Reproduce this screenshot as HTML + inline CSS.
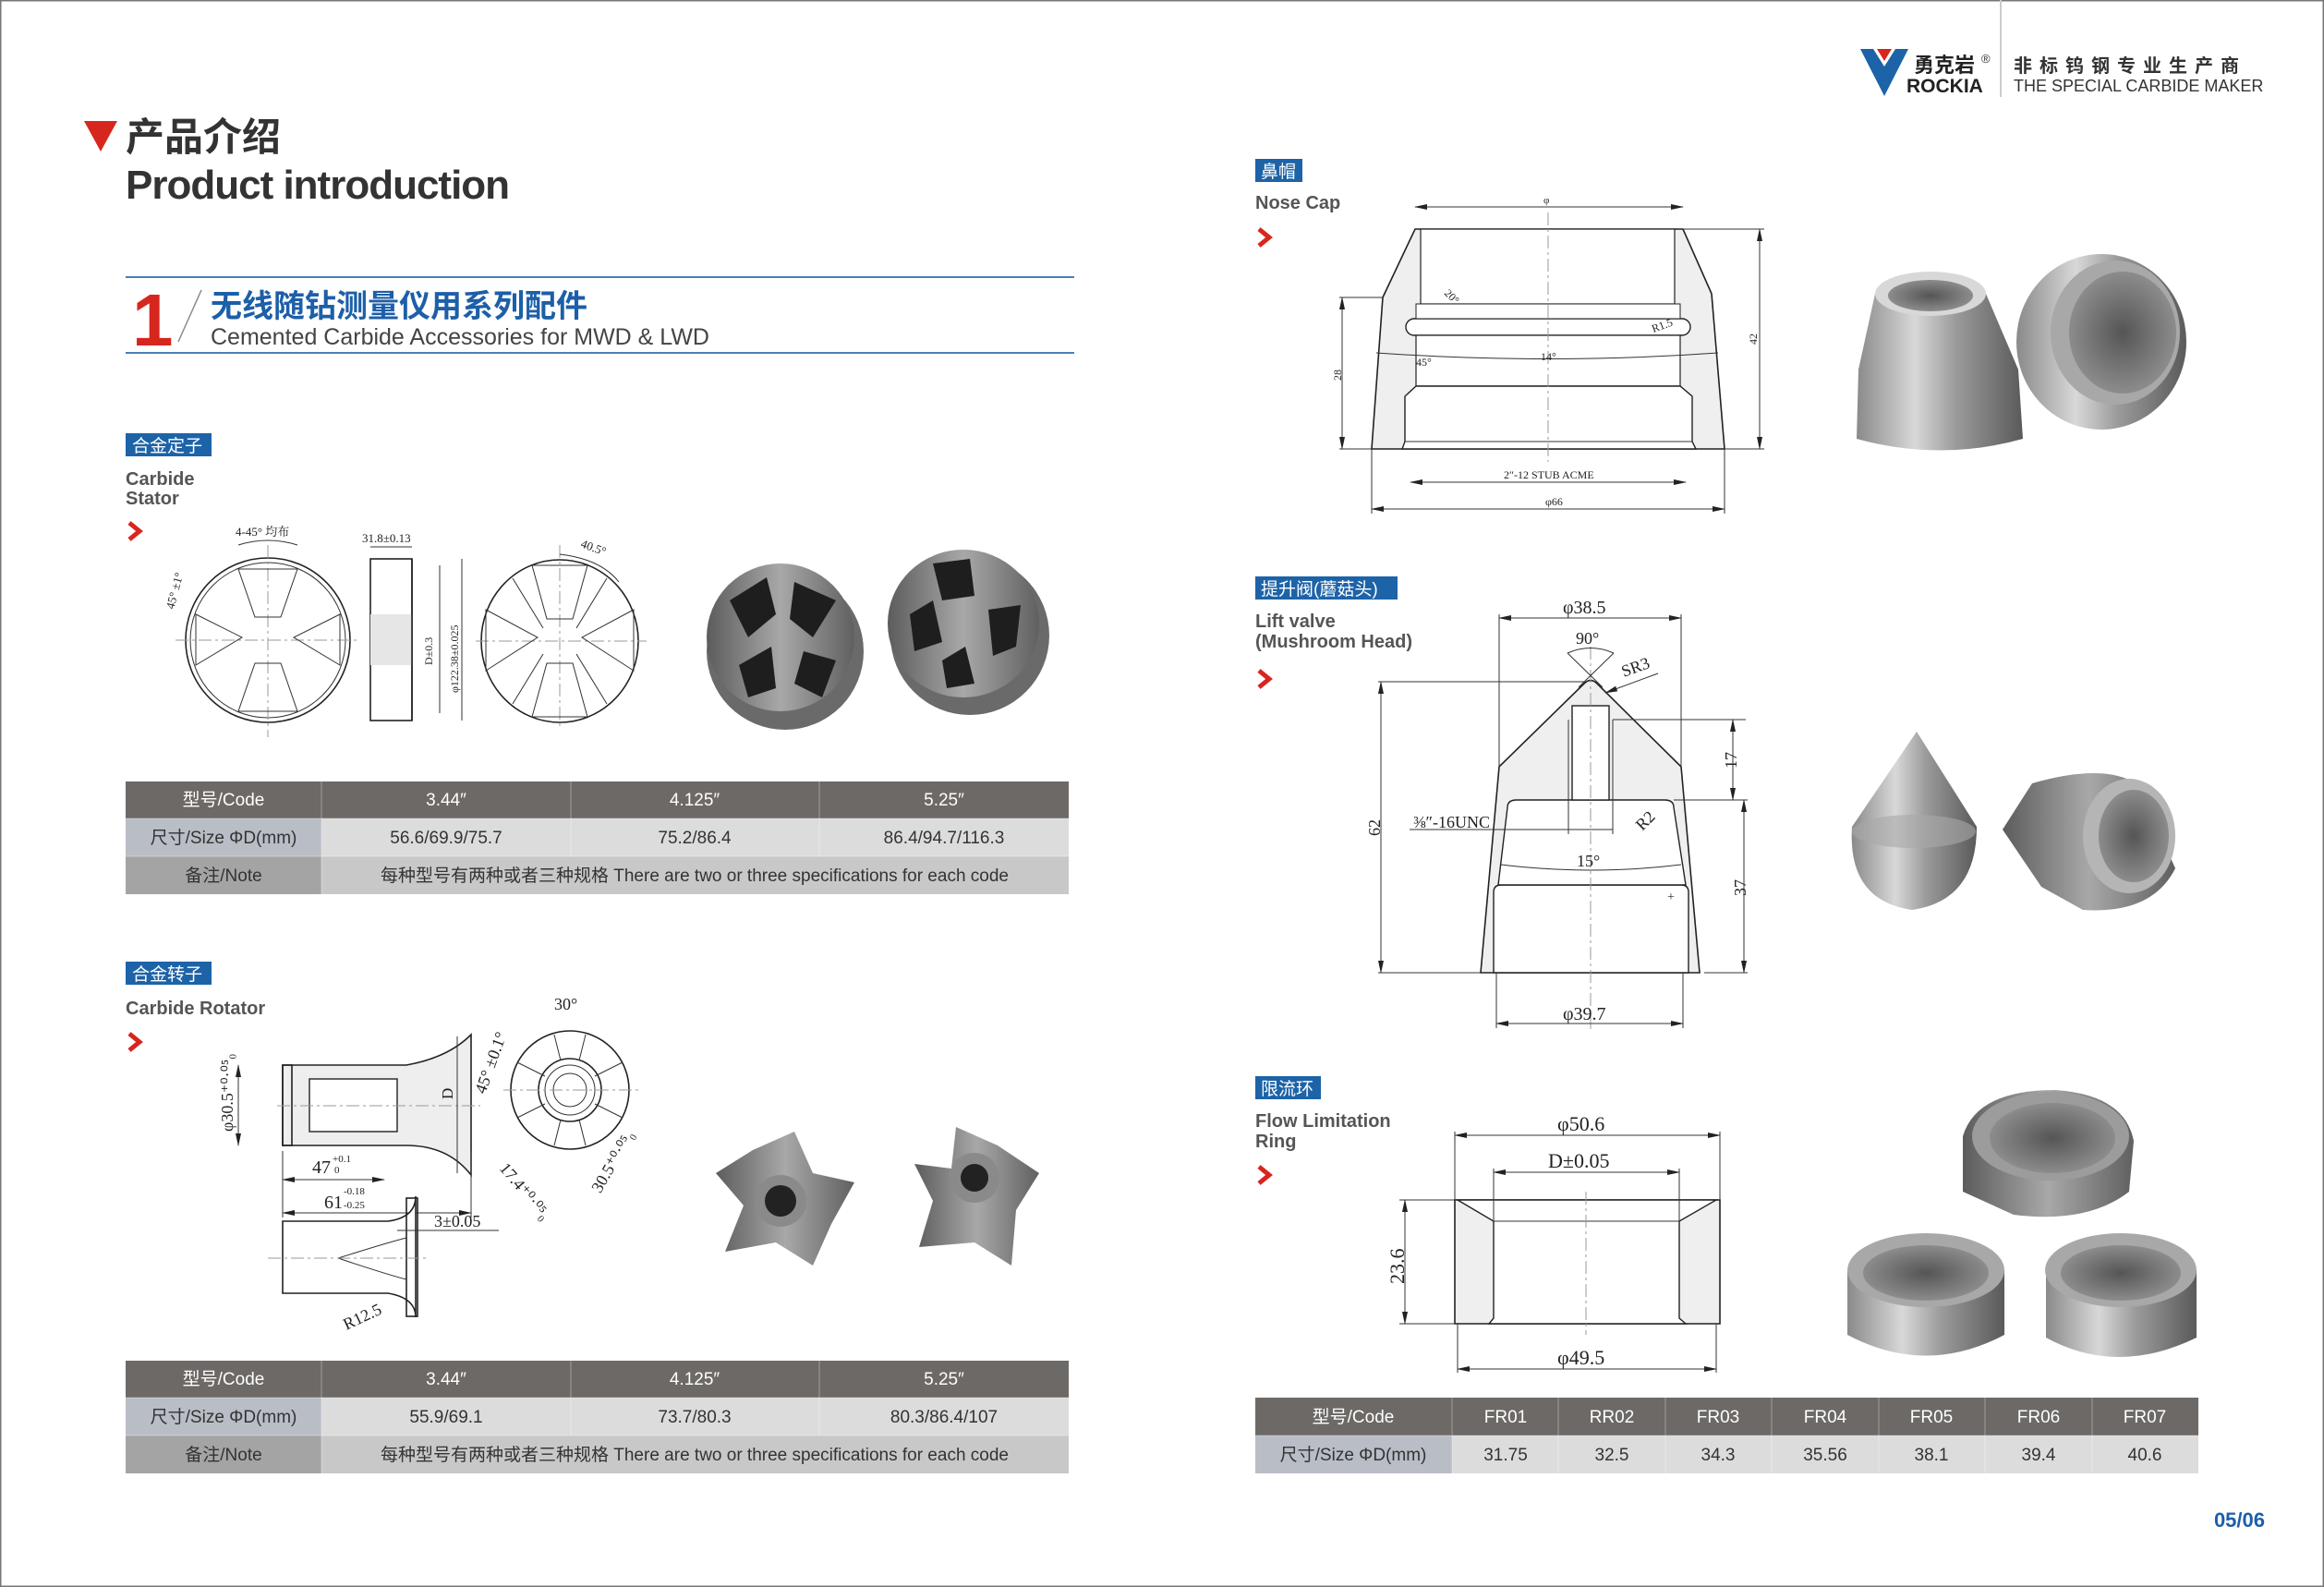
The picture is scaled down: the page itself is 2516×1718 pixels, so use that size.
<!DOCTYPE html>
<html><head><meta charset="utf-8"><style>
html,body{margin:0;padding:0;background:#fff}
svg{display:block}
text{font-family:"Liberation Sans","Noto Sans CJK SC",sans-serif}
.s{font-family:"Liberation Serif","Noto Serif CJK SC",serif;fill:#222}
.d{stroke:#222;stroke-width:1.6;fill:none}
.t{stroke:#333;stroke-width:1;fill:none}
.c{stroke:#999;stroke-width:1;stroke-dasharray:14 4 3 4;fill:none}
</style></head><body>
<svg width="2516" height="1718" viewBox="0 0 2516 1718" xmlns="http://www.w3.org/2000/svg">
<defs>
<linearGradient id="m1" x1="0" x2="1"><stop offset="0" stop-color="#8a8a8a"/><stop offset=".35" stop-color="#d8d8d8"/><stop offset=".6" stop-color="#9a9a9a"/><stop offset="1" stop-color="#5a5a5a"/></linearGradient>
<linearGradient id="m2" x1="0" x2="1"><stop offset="0" stop-color="#5c5c5c"/><stop offset=".5" stop-color="#a8a8a8"/><stop offset="1" stop-color="#606060"/></linearGradient>
<radialGradient id="in"><stop offset="0" stop-color="#555"/><stop offset="1" stop-color="#8c8c8c"/></radialGradient>
<marker id="a" markerWidth="14" markerHeight="6" refX="13" refY="3" orient="auto-start-reverse"><path d="M0,0L14,3L0,6z" fill="#222"/></marker>
</defs>
<rect x="0.5" y="0.5" width="2515" height="1717" fill="#fff" stroke="#777" stroke-width="2"/>

<!-- logo -->
<polygon points="2014,53 2066,53 2040,104" fill="#1d63a8"/>
<polygon points="2028,53 2052,53 2040,72" fill="#fff"/>
<polygon points="2032,53 2048,53 2040,66" fill="#d7261e"/>
<text x="2072" y="78" font-size="22" font-weight="bold" fill="#222" font-family="Liberation Serif,Noto Serif CJK SC,serif">勇克岩</text>
<text x="2145" y="68" font-size="13" fill="#333">®</text>
<text x="2064" y="100" font-size="21" font-weight="bold" fill="#222">ROCKIA</text>
<line x1="2166" y1="0" x2="2166" y2="105" stroke="#ccc" stroke-width="2"/>
<text x="2180" y="78" font-size="20" font-weight="bold" fill="#333" letter-spacing="8">非标钨钢专业生产商</text>
<text x="2180" y="99" font-size="18" fill="#333">THE SPECIAL CARBIDE MAKER</text>

<!-- title -->
<polygon points="91,131 127,131 109,164" fill="#d7261e"/>
<text x="136" y="163" font-size="42" font-weight="bold" fill="#333">产品介绍</text>
<text x="136" y="215" font-size="44" font-weight="bold" fill="#333" letter-spacing="-1">Product introduction</text>
<line x1="136" y1="300" x2="1163" y2="300" stroke="#4a7fb0" stroke-width="2"/>
<line x1="136" y1="382" x2="1163" y2="382" stroke="#4a7fb0" stroke-width="2"/>
<text x="143" y="374" font-size="80" font-weight="bold" fill="#d7261e">1</text>
<line x1="193" y1="370" x2="218" y2="314" stroke="#888" stroke-width="1.5"/>
<text x="228" y="343" font-size="34" font-weight="bold" fill="#1d5fa8">无线随钻测量仪用系列配件</text>
<text x="228" y="373" font-size="25" fill="#444">Cemented Carbide Accessories for MWD &amp; LWD</text>

<!-- section labels -->
<g font-size="19" fill="#fff">
<rect x="136" y="469" width="93" height="25" fill="#1d63a8"/><text x="143" y="489">合金定子</text>
<rect x="136" y="1041" width="93" height="25" fill="#1d63a8"/><text x="143" y="1061">合金转子</text>
<rect x="1359" y="172" width="51" height="25" fill="#1d63a8"/><text x="1365" y="192">鼻帽</text>
<rect x="1359" y="624" width="154" height="25" fill="#1d63a8"/><text x="1365" y="644">提升阀(蘑菇头)</text>
<rect x="1359" y="1165" width="71" height="25" fill="#1d63a8"/><text x="1365" y="1185">限流环</text>
</g>
<g font-size="20" font-weight="bold" fill="#555">
<text x="136" y="525">Carbide</text><text x="136" y="546">Stator</text>
<text x="136" y="1098">Carbide Rotator</text>
<text x="1359" y="226">Nose Cap</text>
<text x="1359" y="679">Lift valve</text><text x="1359" y="701">(Mushroom Head)</text>
<text x="1359" y="1220">Flow Limitation</text><text x="1359" y="1242">Ring</text>
</g>
<g fill="none" stroke="#d7261e" stroke-width="5">
<polyline points="140,566 151,575 140,584"/><polyline points="140,1119 151,1128 140,1137"/>
<polyline points="1363,248 1374,257 1363,266"/><polyline points="1363,726 1374,735 1363,744"/>
<polyline points="1363,1263 1374,1272 1363,1281"/>
</g>

<!-- stator drawings -->
<g>
<ellipse cx="290" cy="693" rx="89" ry="89" class="d" stroke-width="2.5"/>
<ellipse cx="290" cy="693" rx="84" ry="84" class="t"/>
<line x1="190" y1="693" x2="390" y2="693" class="c"/><line x1="290" y1="590" x2="290" y2="798" class="c"/>
<g class="t">
<path d="M258,616 L322,616 L304,668 L276,668 Z"/><path d="M258,770 L322,770 L304,718 L276,718 Z"/>
<path d="M212,665 L262,690 L212,720 Z"/><path d="M368,665 L318,690 L368,720 Z"/>
</g>
<text x="255" y="580" class="s" font-size="13">4-45° 均布</text>
<path d="M258,590 Q290,580 322,590" class="t"/>
<text x="188" y="660" class="s" font-size="13" transform="rotate(-75 188 660)">45° ±1°</text>
<rect x="401" y="605" width="45" height="175" class="d"/>
<rect x="401" y="665" width="45" height="55" fill="#e6e6e6"/>
<line x1="446" y1="605" x2="446" y2="780" class="d"/>
<text x="392" y="587" class="s" font-size="13">31.8±0.13</text>
<line x1="401" y1="592" x2="446" y2="592" class="t"/>
<text x="468" y="720" class="s" font-size="12" transform="rotate(-90 468 720)">D±0.3</text>
<text x="496" y="750" class="s" font-size="12" transform="rotate(-90 496 750)">φ122.38±0.025</text>
<line x1="476" y1="612" x2="476" y2="772" class="t"/><line x1="500" y1="605" x2="500" y2="780" class="t"/>
<ellipse cx="606" cy="694" rx="85" ry="88" class="d" stroke-width="2"/>
<line x1="515" y1="694" x2="700" y2="694" class="c"/><line x1="606" y1="590" x2="606" y2="790" class="c"/>
<g class="t">
<path d="M576,612 L636,612 L620,670 L592,670 Z"/><path d="M576,776 L636,776 L620,718 L592,718 Z"/>
<path d="M526,660 L582,690 L526,726 Z"/><path d="M686,660 L630,690 L686,726 Z"/>
<line x1="555" y1="626" x2="588" y2="680"/><line x1="657" y1="626" x2="624" y2="680"/>
<line x1="555" y1="762" x2="588" y2="708"/><line x1="657" y1="762" x2="624" y2="708"/>
</g>
<path d="M606,600 Q650,605 670,630" class="t"/>
<text x="628" y="592" class="s" font-size="13" transform="rotate(20 628 592)">40.5°</text>
</g>
<!-- stator photos -->
<g>
<ellipse cx="850" cy="705" rx="85" ry="85" fill="#6a6a6a"/>
<ellipse cx="845" cy="690" rx="80" ry="80" fill="url(#m2)"/>
<path d="M790,650 L830,625 L840,665 L810,690 Z" fill="#1e1e1e"/><path d="M860,630 L905,650 L880,690 L855,670 Z" fill="#1e1e1e"/>
<path d="M800,720 L835,700 L840,745 L810,755 Z" fill="#1e1e1e"/><path d="M870,705 L905,715 L890,755 L860,740 Z" fill="#1e1e1e"/>
<ellipse cx="1050" cy="688" rx="86" ry="86" fill="#6a6a6a"/>
<ellipse cx="1043" cy="675" rx="82" ry="80" fill="url(#m2)"/>
<path d="M1010,610 L1050,605 L1055,645 L1020,650 Z" fill="#1e1e1e"/><path d="M985,665 L1010,650 L1020,695 L990,705 Z" fill="#1e1e1e"/>
<path d="M1070,660 L1105,655 L1100,700 L1075,710 Z" fill="#1e1e1e"/><path d="M1020,715 L1045,700 L1055,740 L1025,745 Z" fill="#1e1e1e"/>
</g>

<g font-size="19" text-anchor="middle">
<rect x="136" y="846" width="1021" height="40" fill="#6d6966"/>
<rect x="136" y="886" width="212" height="41" fill="#b8bdc6"/><rect x="348" y="886" width="809" height="41" fill="#dcdcdc"/>
<rect x="136" y="927" width="212" height="41" fill="#a4a4a4"/><rect x="348" y="927" width="809" height="41" fill="#c8c8c8"/>
<text x="242" y="872" fill="#fff">型号/Code</text><text x="483" y="872" fill="#fff">3.44″</text><text x="752" y="872" fill="#fff">4.125″</text><text x="1022" y="872" fill="#fff">5.25″</text>
<text x="242" y="913" fill="#333">尺寸/Size ΦD(mm)</text><text x="483" y="913" fill="#333">56.6/69.9/75.7</text><text x="752" y="913" fill="#333">75.2/86.4</text><text x="1022" y="913" fill="#333">86.4/94.7/116.3</text>
<text x="242" y="954" fill="#333">备注/Note</text><text x="752" y="954" fill="#333">每种型号有两种或者三种规格  There are two or three specifications for each code</text>
<rect x="136" y="1473" width="1021" height="40" fill="#6d6966"/>
<rect x="136" y="1513" width="212" height="41" fill="#b8bdc6"/><rect x="348" y="1513" width="809" height="41" fill="#dcdcdc"/>
<rect x="136" y="1554" width="212" height="41" fill="#a4a4a4"/><rect x="348" y="1554" width="809" height="41" fill="#c8c8c8"/>
<text x="242" y="1499" fill="#fff">型号/Code</text><text x="483" y="1499" fill="#fff">3.44″</text><text x="752" y="1499" fill="#fff">4.125″</text><text x="1022" y="1499" fill="#fff">5.25″</text>
<text x="242" y="1540" fill="#333">尺寸/Size ΦD(mm)</text><text x="483" y="1540" fill="#333">55.9/69.1</text><text x="752" y="1540" fill="#333">73.7/80.3</text><text x="1022" y="1540" fill="#333">80.3/86.4/107</text>
<text x="242" y="1581" fill="#333">备注/Note</text><text x="752" y="1581" fill="#333">每种型号有两种或者三种规格  There are two or three specifications for each code</text>
<rect x="1359" y="1513" width="1021" height="41" fill="#6d6966"/>
<rect x="1359" y="1554" width="213" height="41" fill="#b8bdc6"/><rect x="1572" y="1554" width="808" height="41" fill="#dcdcdc"/>
<text x="1465" y="1540" fill="#fff">型号/Code</text><text x="1465" y="1581" fill="#333">尺寸/Size ΦD(mm)</text>
<g fill="#fff"><text x="1630" y="1540">FR01</text><text x="1745" y="1540">RR02</text><text x="1860" y="1540">FR03</text><text x="1976" y="1540">FR04</text><text x="2091" y="1540">FR05</text><text x="2207" y="1540">FR06</text><text x="2322" y="1540">FR07</text></g>
<g fill="#333"><text x="1630" y="1581">31.75</text><text x="1745" y="1581">32.5</text><text x="1860" y="1581">34.3</text><text x="1976" y="1581">35.56</text><text x="2091" y="1581">38.1</text><text x="2207" y="1581">39.4</text><text x="2322" y="1581">40.6</text></g>
</g>
<g stroke="#fff" stroke-opacity=".35" stroke-width="1">
<line x1="348" y1="846" x2="348" y2="968"/><line x1="618" y1="846" x2="618" y2="927"/><line x1="887" y1="846" x2="887" y2="927"/>
<line x1="136" y1="886" x2="1157" y2="886"/><line x1="136" y1="927" x2="1157" y2="927"/>
<line x1="348" y1="1473" x2="348" y2="1595"/><line x1="618" y1="1473" x2="618" y2="1554"/><line x1="887" y1="1473" x2="887" y2="1554"/>
<line x1="136" y1="1513" x2="1157" y2="1513"/><line x1="136" y1="1554" x2="1157" y2="1554"/>
<line x1="1572" y1="1513" x2="1572" y2="1595"/><line x1="1687" y1="1513" x2="1687" y2="1595"/><line x1="1803" y1="1513" x2="1803" y2="1595"/><line x1="1918" y1="1513" x2="1918" y2="1595"/><line x1="2034" y1="1513" x2="2034" y2="1595"/><line x1="2149" y1="1513" x2="2149" y2="1595"/><line x1="2265" y1="1513" x2="2265" y2="1595"/>
<line x1="1359" y1="1554" x2="2380" y2="1554"/>
</g>

<!-- rotator drawings -->
<g>
<path d="M306,1153 L440,1153 Q485,1145 510,1120 L510,1272 Q485,1240 440,1240 L306,1240 Z" fill="#eee" stroke="#222" stroke-width="1.6"/>
<rect x="306" y="1153" width="10" height="87" class="d"/>
<rect x="335" y="1168" width="95" height="57" fill="#fff" stroke="#222" stroke-width="1.4"/>
<line x1="300" y1="1197" x2="520" y2="1197" class="c"/>
<line x1="258" y1="1153" x2="258" y2="1240" class="t" marker-start="url(#a)" marker-end="url(#a)"/>
<text x="252" y="1225" class="s" font-size="18" transform="rotate(-90 252 1225)">φ30.5⁺⁰·⁰⁵₀</text>
<line x1="495" y1="1122" x2="495" y2="1270" class="t"/>
<text x="490" y="1190" class="s" font-size="17" transform="rotate(-90 490 1190)">D</text>
<line x1="306" y1="1246" x2="306" y2="1318" class="t"/><line x1="510" y1="1246" x2="510" y2="1318" class="t"/>
<line x1="306" y1="1277" x2="416" y2="1277" class="t" marker-start="url(#a)" marker-end="url(#a)"/>
<text x="338" y="1270" class="s" font-size="20">47</text><text x="360" y="1258" class="s" font-size="11">+0.1</text><text x="362" y="1270" class="s" font-size="11">0</text>
<line x1="306" y1="1313" x2="510" y2="1313" class="t" marker-start="url(#a)" marker-end="url(#a)"/>
<text x="351" y="1308" class="s" font-size="20">61</text><text x="372" y="1293" class="s" font-size="11">-0.18</text><text x="372" y="1308" class="s" font-size="11">-0.25</text>
<circle cx="617" cy="1180" r="64" class="d"/><circle cx="617" cy="1180" r="34" class="d"/><circle cx="617" cy="1180" r="27" class="t"/><circle cx="617" cy="1180" r="18" class="t"/>
<g class="t"><line x1="560" y1="1150" x2="590" y2="1165"/><line x1="674" y1="1150" x2="644" y2="1165"/><line x1="560" y1="1210" x2="590" y2="1195"/><line x1="674" y1="1210" x2="644" y2="1195"/><line x1="600" y1="1120" x2="607" y2="1148"/><line x1="634" y1="1120" x2="627" y2="1148"/><line x1="600" y1="1240" x2="607" y2="1212"/><line x1="634" y1="1240" x2="627" y2="1212"/></g>
<line x1="545" y1="1180" x2="695" y2="1180" class="c"/>
<text x="600" y="1093" class="s" font-size="18">30°</text>
<text x="525" y="1185" class="s" font-size="18" transform="rotate(-70 525 1185)">45° ±0.1°</text>
<text x="640" y="1275" class="s" font-size="18" transform="rotate(-60 660 1275)">30.5⁺⁰·⁰⁵₀</text>
<text x="540" y="1265" class="s" font-size="18" transform="rotate(50 540 1265)">17.4⁺⁰·⁰⁵₀</text>
<path d="M306,1322 L420,1322 Q450,1318 450,1295 L450,1426 Q450,1405 420,1400 L306,1400 Z" fill="#fff" stroke="#222" stroke-width="1.6"/>
<rect x="440" y="1297" width="12" height="128" class="d"/>
<path d="M366,1362 Q420,1345 440,1340 M366,1362 Q420,1380 440,1385" class="t"/>
<line x1="290" y1="1362" x2="465" y2="1362" class="c"/>
<line x1="430" y1="1332" x2="540" y2="1332" class="t"/>
<text x="470" y="1328" class="s" font-size="18">3±0.05</text>
<text x="375" y="1440" class="s" font-size="18" transform="rotate(-25 375 1440)">R12.5</text>
</g>
<!-- rotator photos -->
<g>
<g transform="translate(845,1300)">
<path d="M-30,-55 L15,-75 L35,-30 L80,-20 L55,25 L35,70 L-5,45 L-60,55 L-40,5 L-70,-30 Z" fill="url(#m2)"/>
<circle r="28" fill="#8a8a8a"/><circle r="17" fill="#222"/>
</g>
<g transform="translate(1055,1295)">
<path d="M-20,-75 L25,-55 L70,-25 L45,15 L40,75 L0,50 L-60,55 L-45,5 L-65,-35 L-25,-30 Z" fill="url(#m2)"/>
<circle cy="-20" r="27" fill="#8a8a8a"/><circle cy="-20" r="15" fill="#222"/>
</g>
</g>

<!-- nose cap drawing -->
<g>
<path d="M1532,248 L1822,248 L1853,318 L1867,486 L1485,486 L1497,322 Z" fill="#efefef" stroke="#222" stroke-width="1.6"/>
<rect x="1538" y="248" width="275" height="81" fill="#fff" stroke="#222" stroke-width="1.2"/>
<rect x="1522" y="345" width="308" height="18" rx="9" fill="#fff" stroke="#222" stroke-width="1.4"/>
<rect x="1533" y="329" width="286" height="16" fill="#fff" stroke="#222" stroke-width="1"/>
<rect x="1533" y="363" width="286" height="55" fill="#fff" stroke="#222" stroke-width="1.2"/>
<path d="M1533,418 L1521,429 L1521,478 L1518,486 L1836,486 L1832,478 L1832,429 L1819,418 Z" fill="#fff" stroke="#222" stroke-width="1.4"/>
<line x1="1521" y1="478" x2="1832" y2="478" class="t"/>
<line x1="1676" y1="230" x2="1676" y2="500" class="c"/>
<line x1="1532" y1="224" x2="1822" y2="224" class="t" marker-start="url(#a)" marker-end="url(#a)"/>
<text x="1671" y="220" class="s" font-size="11">φ</text>
<line x1="1527" y1="522" x2="1825" y2="522" class="t" marker-start="url(#a)" marker-end="url(#a)"/>
<text x="1628" y="518" class="s" font-size="12">2″-12 STUB ACME</text>
<line x1="1485" y1="551" x2="1867" y2="551" class="t" marker-start="url(#a)" marker-end="url(#a)"/>
<text x="1673" y="547" class="s" font-size="12">φ66</text>
<line x1="1485" y1="486" x2="1485" y2="556" class="t"/><line x1="1867" y1="486" x2="1867" y2="556" class="t"/>
<line x1="1905" y1="248" x2="1905" y2="486" class="t" marker-start="url(#a)" marker-end="url(#a)"/>
<line x1="1822" y1="248" x2="1910" y2="248" class="t"/><line x1="1867" y1="486" x2="1910" y2="486" class="t"/>
<text x="1902" y="373" class="s" font-size="12" transform="rotate(-90 1902 373)">42</text>
<line x1="1453" y1="322" x2="1453" y2="486" class="t" marker-start="url(#a)" marker-end="url(#a)"/>
<line x1="1450" y1="322" x2="1497" y2="322" class="t"/><line x1="1450" y1="486" x2="1485" y2="486" class="t"/>
<text x="1452" y="412" class="s" font-size="12" transform="rotate(-90 1452 412)">28</text>
<path d="M1490,382 Q1676,395 1860,382" class="t"/>
<text x="1668" y="390" class="s" font-size="12">14°</text>
<text x="1563" y="318" class="s" font-size="12" transform="rotate(45 1563 318)">20°</text>
<text x="1533" y="396" class="s" font-size="12">45°</text>
<text x="1790" y="360" class="s" font-size="12" transform="rotate(-20 1790 360)">R1.5</text>
</g>
<!-- nose cap photos -->
<g>
<path d="M2030,318 L2150,318 L2185,400 L2190,475 Q2100,500 2010,475 L2012,400 Z" fill="url(#m1)"/>
<ellipse cx="2090" cy="318" rx="60" ry="24" fill="#d8d8d8"/><ellipse cx="2090" cy="320" rx="46" ry="17" fill="url(#in)"/>
<ellipse cx="2275" cy="370" rx="92" ry="95" fill="url(#m1)"/>
<ellipse cx="2290" cy="360" rx="70" ry="78" fill="#a8a8a8"/><ellipse cx="2298" cy="360" rx="58" ry="66" fill="url(#in)"/>
</g>

<!-- lift valve drawing -->
<g>
<path d="M1715,740 Q1722,733 1729,740 L1820,830 L1840,1053 L1603,1053 L1623,830 Z" fill="#efefef" stroke="#222" stroke-width="1.6"/>
<path d="M1617,1053 L1617,966 Q1617,958 1625,958 L1820,958 Q1828,958 1828,966 L1828,1053 Z" fill="#fff" stroke="#222" stroke-width="1.4"/>
<path d="M1622,958 L1632,874 Q1632,866 1642,866 L1802,866 Q1812,866 1812,874 L1825,958 Z" fill="#fff" stroke="#222" stroke-width="1.4"/>
<rect x="1702" y="764" width="40" height="102" fill="#fff" stroke="#222" stroke-width="1.4"/>
<line x1="1698" y1="779" x2="1698" y2="903" class="t"/><line x1="1746" y1="779" x2="1746" y2="903" class="t"/>
<line x1="1722" y1="700" x2="1722" y2="1115" class="c"/>
<line x1="1623" y1="669" x2="1820" y2="669" class="t" marker-start="url(#a)" marker-end="url(#a)"/>
<line x1="1623" y1="665" x2="1623" y2="830" class="t"/><line x1="1820" y1="665" x2="1820" y2="830" class="t"/>
<text x="1692" y="664" class="s" font-size="20">φ38.5</text>
<text x="1706" y="697" class="s" font-size="18">90°</text>
<path d="M1697,707 Q1722,696 1747,707" class="t"/>
<line x1="1697" y1="707" x2="1735" y2="744" class="t"/><line x1="1747" y1="707" x2="1709" y2="744" class="t"/>
<text x="1758" y="733" class="s" font-size="18" transform="rotate(-20 1758 733)">SR3</text>
<line x1="1795" y1="729" x2="1738" y2="750" class="t" marker-end="url(#a)"/>
<line x1="1495" y1="738" x2="1495" y2="1053" class="t" marker-start="url(#a)" marker-end="url(#a)"/>
<line x1="1492" y1="738" x2="1715" y2="738" class="t"/><line x1="1492" y1="1053" x2="1603" y2="1053" class="t"/>
<text x="1494" y="905" class="s" font-size="18" transform="rotate(-90 1494 905)">62</text>
<line x1="1876" y1="779" x2="1876" y2="866" class="t" marker-start="url(#a)" marker-end="url(#a)"/>
<line x1="1746" y1="779" x2="1890" y2="779" class="t"/><line x1="1812" y1="866" x2="1892" y2="866" class="t"/>
<text x="1880" y="832" class="s" font-size="18" transform="rotate(-90 1880 832)">17</text>
<line x1="1888" y1="866" x2="1888" y2="1053" class="t" marker-start="url(#a)" marker-end="url(#a)"/>
<line x1="1845" y1="1053" x2="1892" y2="1053" class="t"/>
<text x="1890" y="970" class="s" font-size="18" transform="rotate(-90 1890 970)">37</text>
<line x1="1526" y1="898" x2="1746" y2="898" class="t"/>
<text x="1530" y="896" class="s" font-size="18">⅜″-16UNC</text>
<text x="1778" y="900" class="s" font-size="18" transform="rotate(-45 1778 900)">R2</text>
<path d="M1625,936 Q1722,948 1820,936" class="t"/>
<text x="1707" y="938" class="s" font-size="18">15°</text>
<text x="1805" y="975" class="s" font-size="14">+</text>
<line x1="1620" y1="1108" x2="1822" y2="1108" class="t" marker-start="url(#a)" marker-end="url(#a)"/>
<line x1="1620" y1="1053" x2="1620" y2="1113" class="t"/><line x1="1822" y1="1053" x2="1822" y2="1113" class="t"/>
<text x="1692" y="1104" class="s" font-size="20">φ39.7</text>
</g>
<!-- lift valve photos -->
<g>
<path d="M2075,792 L2005,895 Q2000,975 2070,985 Q2140,975 2140,895 Z" fill="url(#m1)"/>
<ellipse cx="2072" cy="900" rx="67" ry="18" fill="#a8a8a8" opacity=".6"/>
<path d="M2200,848 Q2280,825 2315,850 L2355,940 Q2330,990 2255,985 L2210,960 L2168,898 Z" fill="url(#m2)"/>
<ellipse cx="2305" cy="905" rx="50" ry="62" fill="#b5b5b5"/><ellipse cx="2310" cy="905" rx="38" ry="50" fill="url(#in)"/>
</g>

<!-- flow ring drawing -->
<g>
<path d="M1575,1299 L1862,1299 L1862,1433 L1575,1433 Z" fill="#efefef" stroke="#222" stroke-width="1.6"/>
<path d="M1578,1299 L1617,1322 L1617,1427 L1612,1433 L1825,1433 L1818,1427 L1818,1322 L1858,1299 Z" fill="#fff" stroke="#222" stroke-width="1.4"/>
<line x1="1617" y1="1322" x2="1818" y2="1322" class="t"/>
<line x1="1717" y1="1290" x2="1717" y2="1445" class="c"/>
<line x1="1575" y1="1229" x2="1862" y2="1229" class="t" marker-start="url(#a)" marker-end="url(#a)"/>
<line x1="1575" y1="1225" x2="1575" y2="1299" class="t"/><line x1="1862" y1="1225" x2="1862" y2="1299" class="t"/>
<text x="1686" y="1224" class="s" font-size="22">φ50.6</text>
<line x1="1617" y1="1269" x2="1818" y2="1269" class="t" marker-start="url(#a)" marker-end="url(#a)"/>
<line x1="1617" y1="1265" x2="1617" y2="1322" class="t"/><line x1="1818" y1="1265" x2="1818" y2="1322" class="t"/>
<text x="1676" y="1264" class="s" font-size="22">D±0.05</text>
<line x1="1521" y1="1299" x2="1521" y2="1433" class="t" marker-start="url(#a)" marker-end="url(#a)"/>
<line x1="1515" y1="1299" x2="1575" y2="1299" class="t"/><line x1="1515" y1="1433" x2="1575" y2="1433" class="t"/>
<text x="1520" y="1390" class="s" font-size="22" transform="rotate(-90 1520 1390)">23.6</text>
<line x1="1578" y1="1482" x2="1858" y2="1482" class="t" marker-start="url(#a)" marker-end="url(#a)"/>
<line x1="1578" y1="1433" x2="1578" y2="1486" class="t"/><line x1="1858" y1="1433" x2="1858" y2="1486" class="t"/>
<text x="1686" y="1477" class="s" font-size="22">φ49.5</text>
</g>
<!-- flow ring photos -->
<g>
<path d="M2125,1230 Q2140,1180 2225,1180 Q2300,1185 2310,1235 L2305,1290 Q2260,1325 2180,1315 L2125,1290 Z" fill="url(#m2)"/>
<ellipse cx="2220" cy="1230" rx="85" ry="48" fill="#9c9c9c"/><ellipse cx="2222" cy="1232" rx="68" ry="38" fill="url(#in)"/>
<path d="M2000,1375 L2000,1445 Q2085,1490 2170,1445 L2170,1375 Z" fill="url(#m1)"/>
<ellipse cx="2085" cy="1375" rx="85" ry="40" fill="#a8a8a8"/><ellipse cx="2085" cy="1378" rx="68" ry="30" fill="url(#in)"/>
<path d="M2215,1375 L2215,1448 Q2292,1490 2378,1448 L2378,1375 Z" fill="url(#m1)"/>
<ellipse cx="2296" cy="1375" rx="82" ry="40" fill="#a8a8a8"/><ellipse cx="2296" cy="1378" rx="65" ry="30" fill="url(#in)"/>
</g>

<text x="2452" y="1653" font-size="22" font-weight="bold" fill="#1d5fa8" text-anchor="end">05/06</text>
</svg>
</body></html>
